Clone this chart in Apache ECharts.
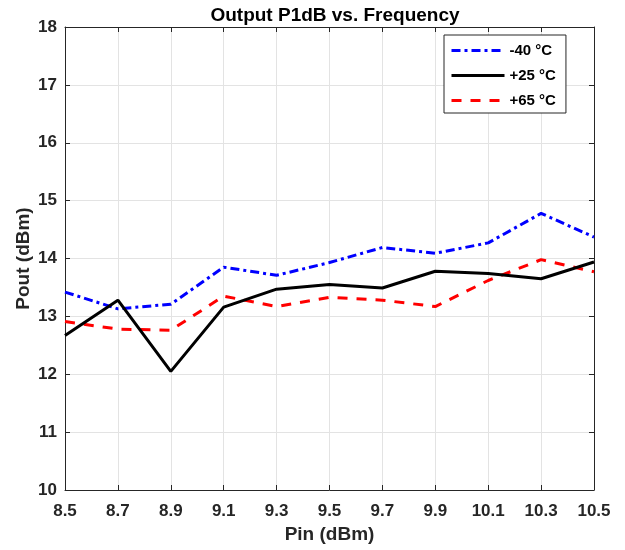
<!DOCTYPE html>
<html><head><meta charset="utf-8">
<script src="https://cdn.jsdelivr.net/npm/echarts@6/dist/echarts.min.js"></script>
<style>html,body{margin:0;padding:0;background:#fff}#c{width:625px;height:550px}</style>
</head><body><div id="c"></div>
<script>
var categories = ['8.5','8.7','8.9','9.1','9.3','9.5','9.7','9.9','10.1','10.3','10.5'];
var minus40 = [13.42,13.13,13.21,13.85,13.71,13.93,14.19,14.09,14.27,14.78,14.37];
var plus25  = [12.67,13.28,12.05,13.16,13.47,13.55,13.49,13.78,13.74,13.65,13.94];
var plus65  = [12.91,12.78,12.76,13.35,13.17,13.33,13.28,13.17,13.62,13.98,13.77];
var seriesNames = ['-40 °C','+25 °C','+65 °C'];

var FONT = 'Liberation Sans';
var axisCol = '#262626';
var chart = echarts.init(document.getElementById('c'), null, {renderer:'canvas'});
var tickInside = {show:true, inside:true, length:5, lineStyle:{color:axisCol}};
chart.setOption({
  animation:false,
  backgroundColor:'#fff',
  title:{text:'Output P1dB vs. Frequency', left:330, textAlign:'center', top:1,
    textStyle:{fontFamily:FONT, fontWeight:'bold', fontSize:19, color:'#000'}},
  legend:{orient:'vertical', left:444, top:35,
    padding:[8,10,5,6], itemWidth:53, itemHeight:14, itemGap:10,
    itemStyle:{color:'rgba(0,0,0,0)', borderWidth:0, opacity:0},
    lineStyle:{width:3},
    borderColor:axisCol, borderWidth:1, backgroundColor:'#fff',
    textStyle:{fontFamily:FONT, fontWeight:'bold', fontSize:15, color:'#000'},
    data:seriesNames},
  grid:{left:65, right:31, top:27, bottom:60, containLabel:false},
  xAxis:[{type:'category', data:categories, boundaryGap:false,
    name:'Pin (dBm)', nameLocation:'middle', nameGap:35, nameMoveOverlap:false,
    nameTextStyle:{fontFamily:FONT, fontWeight:'bold', fontSize:19, color:'#262626'},
    axisLine:{lineStyle:{color:axisCol}}, axisTick:tickInside,
    axisLabel:{fontFamily:FONT, fontWeight:'bold', fontSize:17, color:'#262626', margin:13},
    splitLine:{show:true, lineStyle:{color:'#e3e3e3'}}},
   {type:'category', data:categories, boundaryGap:false, position:'top',
    axisLine:{lineStyle:{color:axisCol}}, axisTick:tickInside, axisLabel:{show:false}, splitLine:{show:false}}],
  yAxis:[{type:'value', min:10, max:18, interval:1,
    name:'Pout (dBm)', nameLocation:'middle', nameGap:32, nameMoveOverlap:false,
    nameTextStyle:{fontFamily:FONT, fontWeight:'bold', fontSize:19, color:'#262626'},
    axisLine:{show:true, lineStyle:{color:axisCol}}, axisTick:tickInside,
    axisLabel:{fontFamily:FONT, fontWeight:'bold', fontSize:17, color:'#262626', margin:8},
    splitLine:{show:true, lineStyle:{color:'#e3e3e3'}}},
   {type:'value', min:10, max:18, interval:1, position:'right',
    axisLine:{show:true, lineStyle:{color:axisCol}}, axisTick:tickInside, axisLabel:{show:false}, splitLine:{show:false}}],
  series:[
    {name:seriesNames[0], type:'line', data:minus40, symbol:'none', z:3,
      lineStyle:{color:'#0000ff', width:3, type:[9,4,3,4]}, itemStyle:{color:'#0000ff'}},
    {name:seriesNames[1], type:'line', data:plus25, symbol:'none', z:4,
      lineStyle:{color:'#000000', width:3, type:'solid'}, itemStyle:{color:'#000000'}},
    {name:seriesNames[2], type:'line', data:plus65, symbol:'none', z:2,
      lineStyle:{color:'#ff0000', width:3, type:[10,9]}, itemStyle:{color:'#ff0000'}}
  ]
});
</script></body></html>
